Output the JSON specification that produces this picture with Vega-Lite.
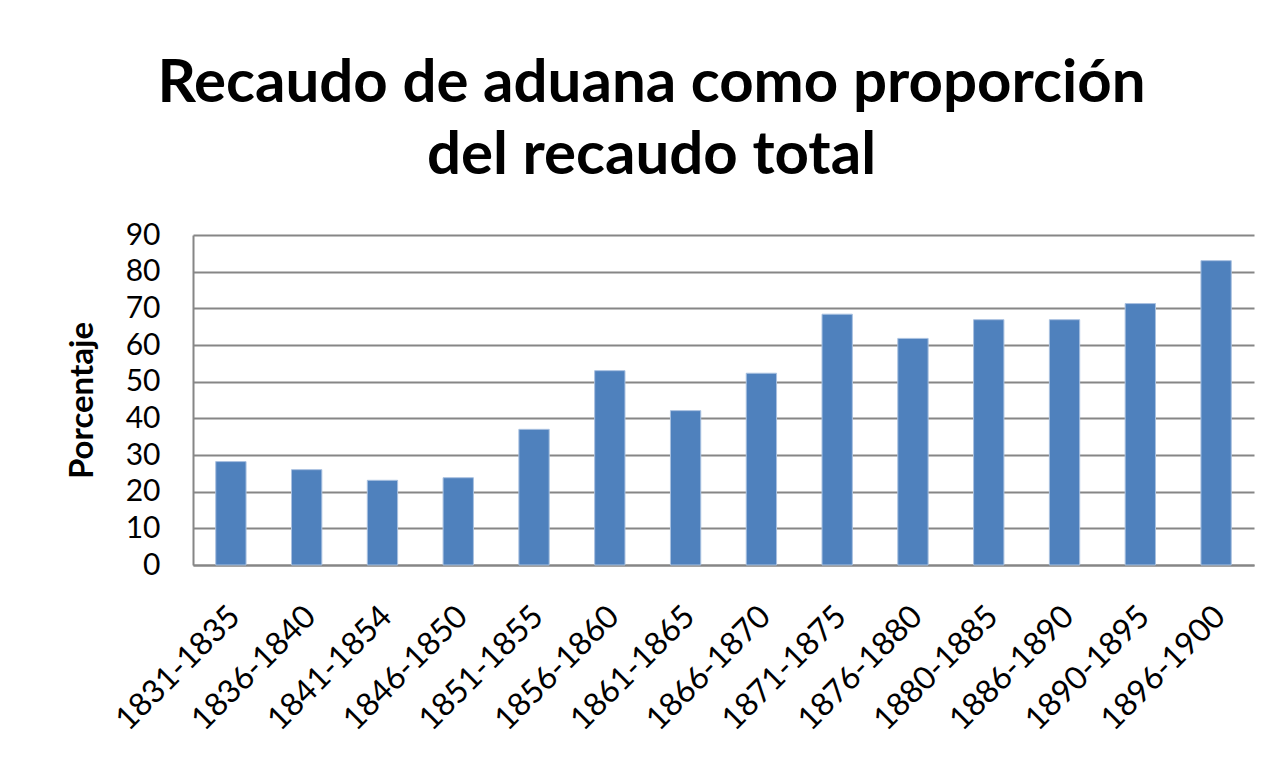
{
  "$schema": "https://vega.github.io/schema/vega-lite/v6.json",
  "width": 1061,
  "height": 330,
  "autosize": {"type": "none"},
  "padding": {"left": 193, "top": 235, "right": 22, "bottom": 208},
  "background": "white",
  "title": {
    "text": ["Recaudo de aduana como proporción", "del recaudo total"],
    "font": "Lato",
    "fontSize": 60,
    "fontWeight": "bold",
    "color": "black",
    "lineHeight": 72,
    "anchor": "middle",
    "dx": -72,
    "offset": 33
  },
  "data": {
    "values": [
      {"periodo": "1831-1835", "valor": 28.2},
      {"periodo": "1836-1840", "valor": 26.0},
      {"periodo": "1841-1854", "valor": 23.1},
      {"periodo": "1846-1850", "valor": 23.8},
      {"periodo": "1851-1855", "valor": 37.0},
      {"periodo": "1856-1860", "valor": 53.0},
      {"periodo": "1861-1865", "valor": 42.1},
      {"periodo": "1866-1870", "valor": 52.3},
      {"periodo": "1871-1875", "valor": 68.4},
      {"periodo": "1876-1880", "valor": 61.8},
      {"periodo": "1880-1885", "valor": 66.9},
      {"periodo": "1886-1890", "valor": 66.9},
      {"periodo": "1890-1895", "valor": 71.3},
      {"periodo": "1896-1900", "valor": 83.0}
    ]
  },
  "mark": {"type": "bar", "color": "#4F81BD", "stroke": "#A9C1E0", "strokeWidth": 1},
  "encoding": {
    "x": {
      "field": "periodo",
      "type": "nominal",
      "sort": null,
      "scale": {"paddingInner": 0.6, "paddingOuter": 0.3},
      "axis": {
        "title": null,
        "labelAngle": -45,
        "labelAlign": "right",
        "labelBaseline": "middle",
        "labelFont": "Lato",
        "labelFontSize": 32,
        "labelColor": "black",
        "labelOffset": 4,
        "labelPadding": 46,
        "ticks": false,
        "domainColor": "#868686",
        "domainWidth": 2,
        "grid": false
      }
    },
    "y": {
      "field": "valor",
      "type": "quantitative",
      "scale": {"domain": [0, 90]},
      "axis": {
        "title": "Porcentaje",
        "titleFont": "Lato",
        "titleFontSize": 33,
        "titleFontWeight": "bold",
        "titleColor": "black",
        "titlePadding": 26,
        "values": [0, 10, 20, 30, 40, 50, 60, 70, 80, 90],
        "labelFont": "Lato",
        "labelFontSize": 30,
        "labelColor": "black",
        "labelPadding": 33,
        "ticks": false,
        "domainColor": "#868686",
        "domainWidth": 2,
        "gridColor": "#868686",
        "gridWidth": 2,
        "gridOpacity": 1
      }
    }
  },
  "config": {
    "view": {"stroke": null}
  }
}
